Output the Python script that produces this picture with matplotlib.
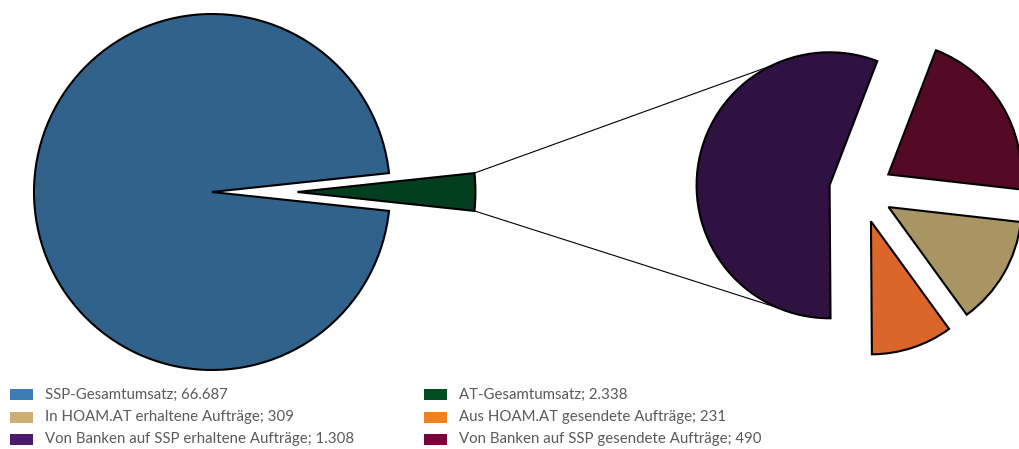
import numpy as np
import matplotlib
matplotlib.use("Agg")
import matplotlib.pyplot as plt
from matplotlib.patches import Rectangle

# Overall volume: SSP total vs. AT total
main_labels = ["SSP-Gesamtumsatz", "AT-Gesamtumsatz"]
main_values = [66687, 2338]
main_colors = ["#30628C", "#033F1F"]

# Breakdown of the AT total
detail_labels = [
    "Von Banken auf SSP erhaltene Aufträge",
    "Aus HOAM.AT gesendete Aufträge",
    "In HOAM.AT erhaltene Aufträge",
    "Von Banken auf SSP gesendete Aufträge",
]
detail_values = [1308, 231, 309, 490]
detail_colors = ["#2F1142", "#DC6629", "#A99563", "#530A24"]

# Legend entries (column-wise) and their swatch colours
legend_col1 = ["SSP-Gesamtumsatz", "In HOAM.AT erhaltene Aufträge",
               "Von Banken auf SSP erhaltene Aufträge"]
legend_col2 = ["AT-Gesamtumsatz", "Aus HOAM.AT gesendete Aufträge",
               "Von Banken auf SSP gesendete Aufträge"]
swatch_colors = {
    "SSP-Gesamtumsatz": "#3D7DB3",
    "AT-Gesamtumsatz": "#034D22",
    "In HOAM.AT erhaltene Aufträge": "#CCAF72",
    "Aus HOAM.AT gesendete Aufträge": "#EE8220",
    "Von Banken auf SSP erhaltene Aufträge": "#4B1A6B",
    "Von Banken auf SSP gesendete Aufträge": "#7B0238",
}

W, H = 1019, 449
fig = plt.figure(figsize=(W / 100, H / 100), dpi=100)
ax = fig.add_axes([0, 0, 1, 1])

edge = dict(edgecolor="black", linewidth=1.5, joinstyle="miter")

# Main pie: the small AT slice is centred on 0 degrees and pulled out
main_r = 178
green_span = 360.0 * main_values[1] / sum(main_values)
main_wedges, _ = ax.pie(main_values, colors=main_colors,
                        startangle=green_span / 2, counterclock=True,
                        explode=[0, 0.48 * main_r], center=(212, H - 192),
                        radius=main_r, wedgeprops=edge, frame=True)

# Secondary pie with every slice exploded
detail_r = 133
detail_wedges, _ = ax.pie(detail_values, colors=detail_colors,
                          startangle=69, counterclock=True,
                          explode=[0.24 * detail_r] * 4, center=(861, H - 191),
                          radius=detail_r, wedgeprops=edge, frame=True)

# Connector lines from the AT slice to the breakdown pie
g = main_wedges[1]
p = detail_wedges[0]
gc = np.array(g.center)
pc = np.array(p.center)
for ga, pa in [(g.theta2, 116), (g.theta1, 247)]:
    a = gc + g.r * np.array([np.cos(np.radians(ga)), np.sin(np.radians(ga))])
    b = pc + p.r * np.array([np.cos(np.radians(pa)), np.sin(np.radians(pa))])
    ax.plot([a[0], b[0]], [a[1], b[1]], color="black", lw=0.8, zorder=0.5)

# Legend
value_of = dict(zip(main_labels + detail_labels, main_values + detail_values))


def fmt(v):
    return f"{v:,}".replace(",", ".")


row_y = [H - 394.5, H - 417, H - 439.5]
for col_x, entries in [(10, legend_col1), (424, legend_col2)]:
    for y, lab in zip(row_y, entries):
        ax.add_patch(Rectangle((col_x, y - 5.5), 23, 11,
                               facecolor=swatch_colors[lab], edgecolor="none"))
        ax.text(col_x + 35, y, f"{lab}; {fmt(value_of[lab])}",
                fontsize=10.8, family="Lato", color="#5A5A5A",
                va="center", ha="left")

ax.set_xlim(0, W)
ax.set_ylim(0, H)
ax.set_aspect("auto")
ax.axis("off")

fig.savefig("out.png", dpi=100)
